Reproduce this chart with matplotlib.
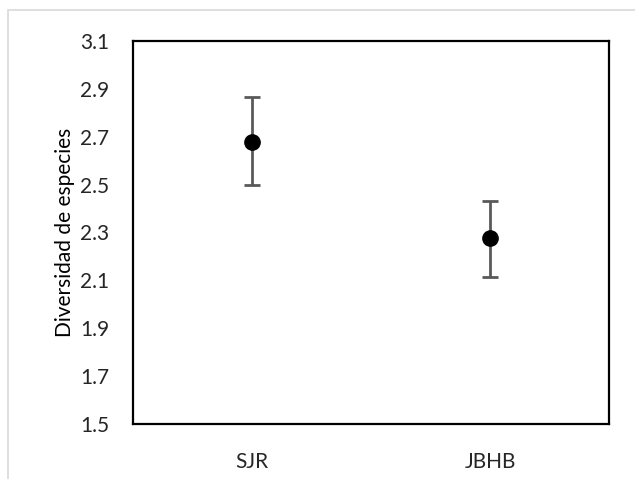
import matplotlib.pyplot as plt
from matplotlib.patches import Rectangle

sites = ["SJR", "JBHB"]
diversity = [2.68, 2.275]
err_low = [2.50, 2.115]
err_high = [2.865, 2.43]
yticks = [1.5, 1.7, 1.9, 2.1, 2.3, 2.5, 2.7, 2.9, 3.1]

plt.rcParams['font.family'] = ['Lato', 'DejaVu Sans']

fig = plt.figure(figsize=(6.35, 4.79), dpi=100)
fig.patches.append(Rectangle((8 / 635, -0.05), 1.1, 1 - 10 / 479 + 0.05,
                             transform=fig.transFigure, fill=False,
                             edgecolor="#d9d9d9", linewidth=1.2))
ax = fig.add_axes([133 / 635, 55 / 479, 476 / 635, 383 / 479])

x = list(range(len(sites)))
yerr = [[d - lo for d, lo in zip(diversity, err_low)],
        [hi - d for d, hi in zip(diversity, err_high)]]
ax.errorbar(x, diversity, yerr=yerr, fmt='o', color='black', markersize=11,
            ecolor='#595959', elinewidth=2, capsize=6, capthick=2)

ax.set_xlim(-0.5, 1.5)
ax.set_ylim(1.5, 3.1)
ax.set_yticks(yticks)
ax.set_yticklabels([f"{t:.1f}" for t in yticks])
ax.set_xticks(x)
ax.set_xticklabels(sites)
ax.tick_params(length=0, labelsize=15, colors='#262626')
ax.tick_params(axis='y', pad=17)
ax.tick_params(axis='x', pad=20)
ax.set_ylabel("Diversidad de especies", fontsize=15, color='black', labelpad=4)
for s in ax.spines.values():
    s.set_linewidth(1.6)
    s.set_color('black')

fig.savefig("out.png", dpi=100)
